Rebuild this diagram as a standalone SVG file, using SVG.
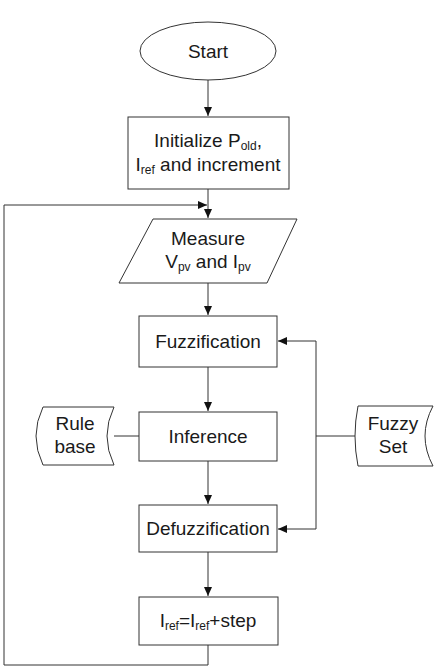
<svg xmlns="http://www.w3.org/2000/svg" width="438" height="668" viewBox="0 0 438 668">
<style>
.s{fill:#fff;stroke:#333;stroke-width:1}
.t{font-family:"Liberation Sans",Arial,sans-serif;font-size:19px;fill:#1a1a1a;text-anchor:middle}
.sub{font-size:12px}
.c{fill:none;stroke:#333;stroke-width:1}
</style>
<defs>
<marker id="a" markerWidth="10" markerHeight="8" refX="9" refY="4" orient="auto" markerUnits="userSpaceOnUse">
<path d="M0,0 L9,4 L0,8 Z" fill="#111"/>
</marker>
</defs>
<rect width="438" height="668" fill="#fff"/>
<g id="connectors">
<line class="c" x1="208" y1="80" x2="208" y2="116" marker-end="url(#a)"/>
<line class="c" x1="208" y1="189" x2="208" y2="218" marker-end="url(#a)"/>
<polyline class="c" points="208,645 208,665 4,665 4,205 207,205" marker-end="url(#a)"/>
<line class="c" x1="208" y1="283" x2="208" y2="315" marker-end="url(#a)"/>
<line class="c" x1="208" y1="367" x2="208" y2="411" marker-end="url(#a)"/>
<line class="c" x1="208" y1="461" x2="208" y2="504" marker-end="url(#a)"/>
<line class="c" x1="208" y1="552" x2="208" y2="596" marker-end="url(#a)"/>
<line class="c" x1="114" y1="436" x2="139" y2="436"/>
<line class="c" x1="355" y1="436" x2="316" y2="436"/>
<polyline class="c" points="316,341 316,529"/>
<line class="c" x1="316" y1="341" x2="278" y2="341" marker-end="url(#a)"/>
<line class="c" x1="316" y1="529" x2="278" y2="529" marker-end="url(#a)"/>
</g>
<g id="start">
<ellipse class="s" cx="208" cy="51" rx="68" ry="29"/>
<text class="t" x="208" y="58">Start</text>
</g>
<g id="init">
<rect class="s" x="128" y="117" width="161" height="72"/>
<text class="t" x="208" y="147">Initialize P<tspan class="sub" dy="3">old</tspan><tspan dy="-3">,</tspan></text>
<text class="t" x="208" y="171">I<tspan class="sub" dy="3">ref</tspan><tspan dy="-3"> and increment</tspan></text>
</g>
<g id="measure">
<polygon class="s" points="153,219 297,219 267,283 119,283"/>
<text class="t" x="208" y="245">Measure</text>
<text class="t" x="208" y="268">V<tspan class="sub" dy="3">pv</tspan><tspan dy="-3"> and I</tspan><tspan class="sub" dy="3">pv</tspan></text>
</g>
<g id="fuzzification">
<rect class="s" x="139" y="316" width="138" height="51"/>
<text class="t" x="208" y="348">Fuzzification</text>
</g>
<g id="inference">
<rect class="s" x="139" y="412" width="138" height="49"/>
<text class="t" x="208" y="443">Inference</text>
</g>
<g id="rulebase">
<path class="s" d="M43,407 L114,407 Q100,436 114,465 L43,465 Q29,436 43,407 Z"/>
<text class="t" x="75" y="430">Rule</text>
<text class="t" x="75" y="453">base</text>
</g>
<g id="fuzzyset">
<path class="s" d="M358,406 L433,406 Q417,436 433,466 L358,466 Q352,436 358,406 Z"/>
<text class="t" x="393" y="430">Fuzzy</text>
<text class="t" x="393" y="453">Set</text>
</g>
<g id="defuzzification">
<rect class="s" x="139" y="505" width="138" height="47"/>
<text class="t" x="208" y="535">Defuzzification</text>
</g>
<g id="update">
<rect class="s" x="139" y="597" width="139" height="48"/>
<text class="t" x="208" y="627">I<tspan class="sub" dy="3">ref</tspan><tspan dy="-3">=I</tspan><tspan class="sub" dy="3">ref</tspan><tspan dy="-3">+step</tspan></text>
</g>
</svg>
